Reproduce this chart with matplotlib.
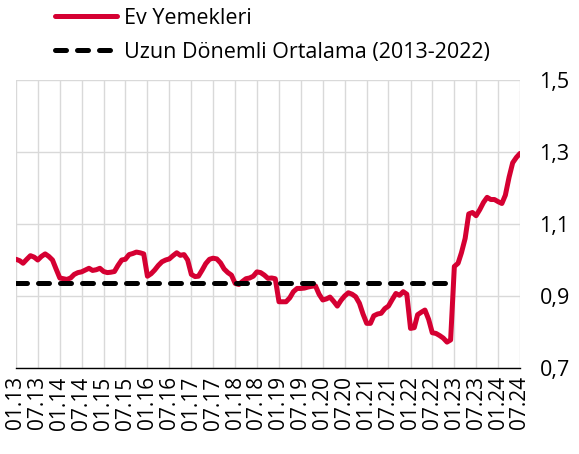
import matplotlib
matplotlib.use("Agg")
import matplotlib.pyplot as plt
import numpy as np
import pandas as pd

# Monthly values, 2013-01 .. 2024-07
ev_yemekleri = [
    1.002, 0.998, 0.991, 1.002, 1.012, 1.008, 1.000, 1.010, 1.017, 1.010, 1.000, 0.975,  # 2013
    0.950, 0.948, 0.946, 0.950, 0.960, 0.965, 0.967, 0.972, 0.977, 0.971, 0.973, 0.977,  # 2014
    0.968, 0.965, 0.966, 0.968, 0.985, 1.000, 1.002, 1.015, 1.018, 1.022, 1.020, 1.017,  # 2015
    0.955, 0.962, 0.972, 0.985, 0.995, 1.000, 1.003, 1.012, 1.020, 1.013, 1.015, 1.000,  # 2016
    0.960, 0.954, 0.955, 0.972, 0.990, 1.002, 1.005, 1.003, 0.992, 0.975, 0.965, 0.958,  # 2017
    0.935, 0.932, 0.940, 0.948, 0.950, 0.955, 0.967, 0.965, 0.958, 0.949, 0.950, 0.948,  # 2018
    0.884, 0.884, 0.884, 0.895, 0.912, 0.921, 0.921, 0.922, 0.925, 0.927, 0.928, 0.905,  # 2019
    0.889, 0.892, 0.897, 0.885, 0.872, 0.888, 0.900, 0.909, 0.905, 0.898, 0.880, 0.850,  # 2020
    0.824, 0.824, 0.845, 0.850, 0.852, 0.865, 0.872, 0.890, 0.907, 0.902, 0.912, 0.905,  # 2021
    0.810, 0.812, 0.848, 0.855, 0.861, 0.835, 0.798, 0.796, 0.790, 0.783, 0.772, 0.778,  # 2022
    0.982, 0.991, 1.020, 1.060, 1.128, 1.132, 1.123, 1.140, 1.160, 1.174, 1.168, 1.168,  # 2023
    1.162, 1.157, 1.180, 1.230, 1.270, 1.285, 1.296,                                     # 2024
]
uzun_donem_ortalama = 0.935
ortalama_start = "2013-01"
ortalama_end = "2022-12"

y_ticks = [0.7, 0.9, 1.1, 1.3, 1.5]
y_tick_labels = ["0,7", "0,9", "1,1", "1,3", "1,5"]
series_labels = ["Ev Yemekleri", "Uzun Dönemli Ortalama (2013-2022)"]

dates = pd.date_range("2013-01-01", periods=len(ev_yemekleri), freq="MS")
avg_dates = pd.date_range(ortalama_start + "-01", ortalama_end + "-01", freq="MS")
avg_vals = [uzun_donem_ortalama] * len(avg_dates)

x_tick_dates = pd.date_range("2013-01-01", "2024-07-01", freq="6MS")
x_tick_labels = [d.strftime("%m.%y") for d in x_tick_dates]

plt.rcParams['font.family'] = ['Open Sans', 'DejaVu Sans']

fig = plt.figure(figsize=(5.79, 4.54), dpi=100)
ax = fig.add_axes([16/579, 1 - 368/454, (520 - 16)/579, (368 - 80)/454])

red = "#d50032"
ax.plot(dates, ev_yemekleri, color=red, lw=3.6, solid_capstyle="round",
        solid_joinstyle="round", label=series_labels[0], zorder=3)
ax.plot(avg_dates, avg_vals, color="black", lw=3.6, dashes=(2.2, 2.2),
        dash_capstyle="round", label=series_labels[1], zorder=4)

ax.set_xlim(x_tick_dates[0], x_tick_dates[-1])
ax.set_ylim(0.7, 1.5)
ax.set_xticks(x_tick_dates)
ax.set_xticklabels(x_tick_labels, rotation=90, fontsize=15)
ax.set_yticks(y_ticks)
ax.set_yticklabels(y_tick_labels, fontsize=15.5)
ax.yaxis.tick_right()
ax.tick_params(axis="y", length=0, pad=14)
ax.tick_params(axis="x", length=0, pad=6)

ax.grid(True, color="#d9d9d9", lw=1.0, zorder=0)
for s in ["top", "left", "right"]:
    ax.spines[s].set_visible(False)
ax.spines["bottom"].set_color("black")
ax.spines["bottom"].set_linewidth(1.0)
ax.set_axisbelow(True)

fig.legend(loc="upper left", bbox_to_anchor=(55/579, 1 - 8/454), frameon=False,
           fontsize=15.5, handlelength=2.9, handletextpad=0.3, labelspacing=0.6,
           borderpad=0, borderaxespad=0)

fig.savefig("out.png", dpi=100)
